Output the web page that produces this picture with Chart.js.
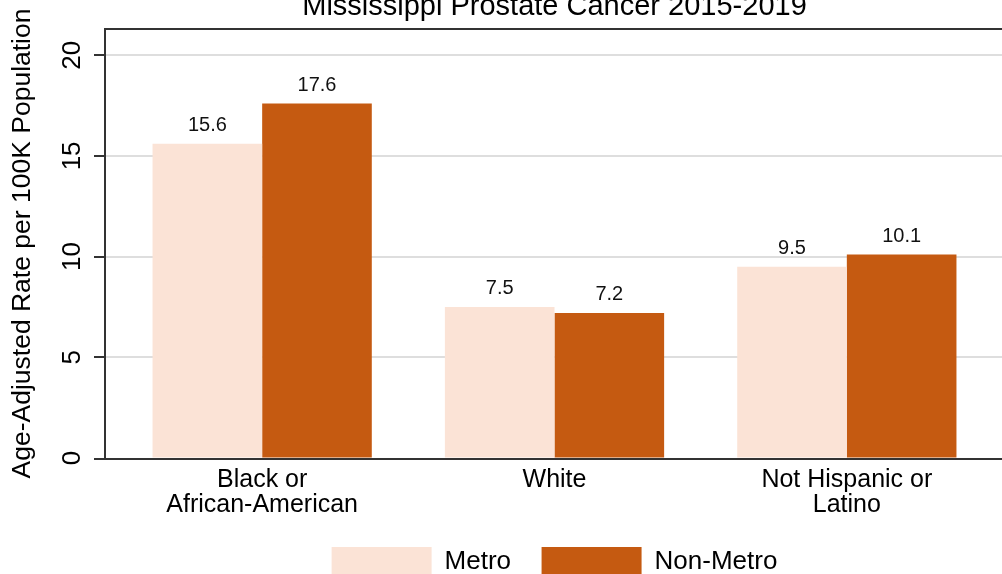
<!DOCTYPE html>
<html><head><meta charset="utf-8">
<script src="https://cdn.jsdelivr.net/npm/chart.js@4/dist/chart.umd.min.js"></script>
<style>html,body{margin:0;padding:0;background:#fff;overflow:hidden}#wrap{width:1002px;height:574px;position:relative}</style>
</head><body><div id="wrap"><canvas id="c"></canvas></div>
<script>
const chartTitle = 'Mississippi Prostate Cancer 2015-2019';
const yAxisTitle = 'Age-Adjusted Rate per 100K Population';
const categories = [['Black or', 'African-American'], 'White', ['Not Hispanic or', 'Latino']];
const seriesNames = ['Metro', 'Non-Metro'];
const metroValues = [15.6, 7.5, 9.5];
const nonMetroValues = [17.6, 7.2, 10.1];
const yTickValues = [0, 5, 10, 15, 20];
const yMax = 21.3;

const FONT = "'Liberation Sans', Arial, Helvetica, sans-serif";
Chart.defaults.font.family = FONT;
Chart.defaults.color = '#000';

const framePlugin = {
  id: 'frame',
  beforeDatasetsDraw(chart) {
    const {ctx, chartArea, width} = chart; const y = chart.scales.y;
    const left = chartArea.left - 11;
    ctx.save(); ctx.strokeStyle = '#dedede'; ctx.lineWidth = 2;
    yTickValues.forEach(v => {
      if (v === 0) return;
      const py = Math.round(y.getPixelForValue(v));
      ctx.beginPath(); ctx.moveTo(left, py); ctx.lineTo(width, py); ctx.stroke();
    });
    ctx.restore();
  },
  afterDatasetsDraw(chart) {
    const {ctx, chartArea, width} = chart; const y = chart.scales.y;
    const left = chartArea.left - 11; const tickLeft = left - 11;
    const top = chartArea.top; const bottom = y.getPixelForValue(0) + 1;
    ctx.save(); ctx.strokeStyle = '#333'; ctx.lineWidth = 2;
    ctx.beginPath();
    ctx.moveTo(left - 1, top); ctx.lineTo(width, top);
    ctx.moveTo(left, top); ctx.lineTo(left, bottom);
    ctx.moveTo(tickLeft, bottom); ctx.lineTo(width, bottom);
    yTickValues.forEach(v => {
      if (v === 0) return;
      const py = Math.round(y.getPixelForValue(v));
      ctx.moveTo(tickLeft, py); ctx.lineTo(left, py);
    });
    ctx.stroke();
    ctx.fillStyle = '#111'; ctx.font = '20px ' + FONT; ctx.textAlign = 'center'; ctx.textBaseline = 'alphabetic';
    chart.data.datasets.forEach((ds, di) => {
      chart.getDatasetMeta(di).data.forEach((bar, i) => {
        ctx.fillText(ds.data[i].toFixed(1), bar.x, bar.y - 13);
      });
    });
    ctx.restore();
  }
};

new Chart(document.getElementById('c'), {
  type: 'bar',
  data: {
    labels: categories,
    datasets: [
      {label: seriesNames[0], data: metroValues, backgroundColor: '#fbe3d6', borderWidth: 0},
      {label: seriesNames[1], data: nonMetroValues, backgroundColor: '#c55a11', borderWidth: 0}
    ]
  },
  options: {
    responsive: true, maintainAspectRatio: false, animation: false,
    layout: {padding: {left: 0, right: 9, top: 0, bottom: -13}},
    datasets: {bar: {categoryPercentage: 0.75, barPercentage: 1.0}},
    plugins: {
      tooltip: {enabled: false},
      title: {display: true, text: chartTitle, fullSize: false, color: '#000',
        font: {size: 29, weight: 'normal', lineHeight: '13.4px'}, padding: {top: 0, bottom: 15.6}},
      legend: {position: 'bottom', fullSize: false,
        labels: {boxWidth: 100, boxHeight: 30, padding: 30.5, color: '#000', font: {size: 26}}}
    },
    scales: {
      x: {
        grid: {display: true, drawOnChartArea: false, drawTicks: true, tickLength: 10.5, tickColor: 'rgba(0,0,0,0)'},
        border: {display: false},
        ticks: {padding: -1.5, maxRotation: 0, autoSkip: false, color: '#000', font: {size: 25, lineHeight: 1.02}}
      },
      y: {
        min: 0, max: yMax,
        afterBuildTicks: (scale) => { scale.ticks = yTickValues.map(v => ({value: v})); },
        grid: {display: true, drawOnChartArea: false, drawTicks: true, tickLength: 28.5, tickColor: 'rgba(0,0,0,0)'},
        border: {display: false},
        ticks: {padding: 0, minRotation: 90, maxRotation: 90, crossAlign: 'center', color: '#000', font: {size: 26}},
        title: {display: true, text: yAxisTitle, color: '#000', font: {size: 26.5}, padding: {top: 6.5, bottom: 18}}
      }
    }
  },
  plugins: [framePlugin]
});
</script></body></html>
